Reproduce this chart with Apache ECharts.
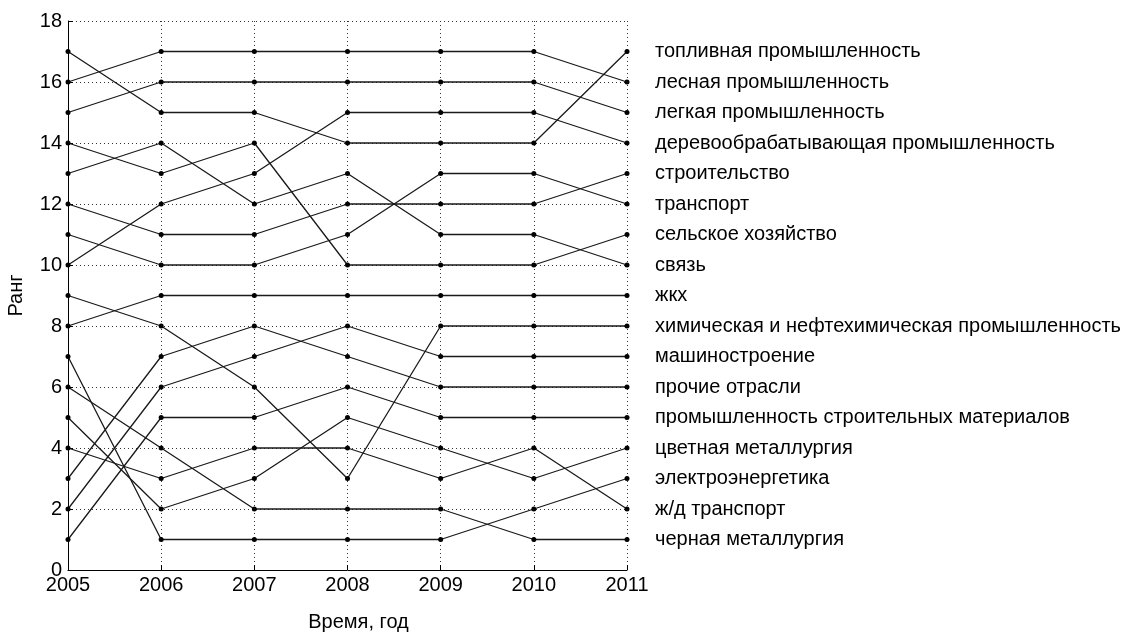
<!DOCTYPE html>
<html>
<head>
<meta charset="utf-8">
<script src="https://cdn.jsdelivr.net/npm/echarts@6/dist/echarts.min.js"></script>
<style>html,body{margin:0;padding:0;background:#fff}#c{width:1137px;height:637px}</style>
</head>
<body>
<div id="c"></div>
<script>
const years = ['2005','2006','2007','2008','2009','2010','2011'];
const names = [
  'топливная промышленность',
  'лесная промышленность',
  'легкая промышленность',
  'деревообрабатывающая промышленность',
  'строительство',
  'транспорт',
  'сельское хозяйство',
  'связь',
  'жкх',
  'химическая и нефтехимическая промышленность',
  'машиностроение',
  'прочие отрасли',
  'промышленность строительных материалов',
  'цветная металлургия',
  'электроэнергетика',
  'ж/д транспорт',
  'черная металлургия'
];
const toplivnaya   = [17,15,15,14,14,14,17];
const lesnaya      = [16,17,17,17,17,17,16];
const legkaya      = [15,16,16,16,16,16,15];
const derevo       = [10,12,13,15,15,15,14];
const stroitelstvo = [12,11,11,12,12,12,13];
const transport    = [11,10,10,11,13,13,12];
const selskoe      = [14,13,14,10,10,10,11];
const svyaz        = [13,14,12,13,11,11,10];
const zhkh         = [8,9,9,9,9,9,9];
const himiya       = [9,8,6,3,8,8,8];
const mashino      = [2,6,7,8,7,7,7];
const prochie      = [3,7,8,7,6,6,6];
const stroimat     = [1,5,5,6,5,5,5];
const cvetnaya     = [5,2,3,5,4,3,4];
const elektro      = [7,1,1,1,1,2,3];
const zhd          = [4,3,4,4,3,4,2];
const chernaya     = [6,4,2,2,2,1,1];
const values = [toplivnaya,lesnaya,legkaya,derevo,stroitelstvo,transport,selskoe,svyaz,zhkh,himiya,mashino,prochie,stroimat,cvetnaya,elektro,zhd,chernaya];
const yTicks = [0,2,4,6,8,10,12,14,16,18];

const font = 'Liberation Sans, Arial, sans-serif';
const chart = echarts.init(document.getElementById('c'));
chart.setOption({
  animation: false,
  grid: {left: 68, right: 510, top: 21, bottom: 58},
  xAxis: {
    type: 'category', data: years, boundaryGap: false,
    name: 'Время, год', nameLocation: 'middle', nameGap: 42,
    nameTextStyle: {color: '#000', fontSize: 20, fontFamily: font, padding: [0, 0, 0, 22]},
    axisLine: {lineStyle: {color: '#000', width: 1}},
    axisTick: {inside: true, length: 5, lineStyle: {color: '#000'}},
    axisLabel: {color: '#000', fontSize: 20, fontFamily: font, margin: 5},
    splitLine: {show: true, lineStyle: {type: [1, 3], color: '#333', width: 1}}
  },
  yAxis: {
    type: 'value', min: 0, max: 18, interval: 2,
    name: 'Ранг', nameLocation: 'middle', nameGap: 42,
    nameTextStyle: {color: '#000', fontSize: 20, fontFamily: font},
    axisLine: {show: true, lineStyle: {color: '#000', width: 1}},
    axisTick: {show: true, inside: true, length: 5, lineStyle: {color: '#000'}},
    axisLabel: {color: '#000', fontSize: 20, fontFamily: font, margin: 6,
      formatter: v => yTicks.includes(v) ? String(v) : ''},
    splitLine: {show: true, lineStyle: {type: [1, 3], color: '#333', width: 1}}
  },
  series: names.map((n, i) => ({
    name: n, type: 'line', data: values[i],
    symbol: 'circle', symbolSize: 5,
    lineStyle: {color: '#1a1a1a', width: 1.3},
    itemStyle: {color: '#000'},
    emphasis: {disabled: true},
    endLabel: {show: true, formatter: '{a}', distance: 28, color: '#000',
      fontSize: 20, fontFamily: font}
  }))
});
</script>
</body>
</html>
